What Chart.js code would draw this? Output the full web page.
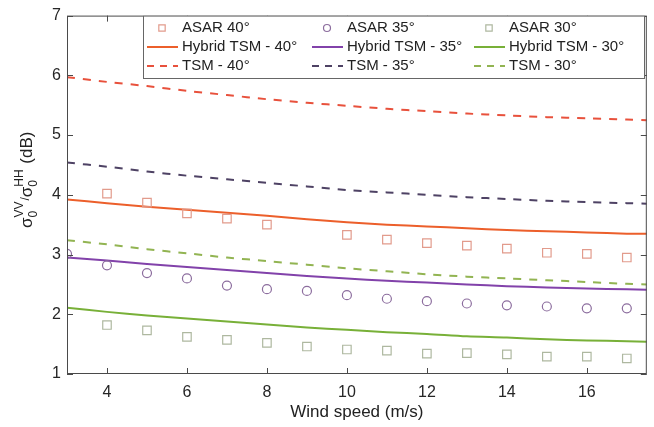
<!DOCTYPE html>
<html>
<head>
<meta charset="utf-8">
<script src="https://cdn.jsdelivr.net/npm/chart.js@4"></script>
<style>
  html, body { margin: 0; padding: 0; background: #fff; }
  canvas { display: block; }
</style>
</head>
<body>
<canvas id="windChart" width="654" height="427"></canvas>
<script>
// wind speed grid for the model curves
const windLine = [3, 4, 5, 6, 7, 8, 9, 10, 11, 12, 13, 14, 15, 16, 17, 17.5];

// model curves (dB)
const tsm40 = [5.97, 5.89, 5.82, 5.74, 5.67, 5.60, 5.54, 5.49, 5.44, 5.40, 5.36, 5.33, 5.30, 5.28, 5.26, 5.25];
const tsm35 = [4.54, 4.47, 4.39, 4.32, 4.26, 4.20, 4.14, 4.08, 4.04, 4.00, 3.96, 3.93, 3.90, 3.88, 3.86, 3.85];
const tsm30 = [3.24, 3.17, 3.09, 3.02, 2.95, 2.89, 2.83, 2.77, 2.72, 2.67, 2.63, 2.60, 2.57, 2.54, 2.51, 2.50];
const hybrid40 = [3.92, 3.86, 3.80, 3.75, 3.70, 3.65, 3.59, 3.54, 3.50, 3.47, 3.44, 3.41, 3.39, 3.37, 3.35, 3.35];
const hybrid35 = [2.95, 2.90, 2.84, 2.79, 2.74, 2.69, 2.64, 2.60, 2.56, 2.53, 2.50, 2.47, 2.45, 2.43, 2.42, 2.41];
const hybrid30 = [2.11, 2.04, 1.98, 1.93, 1.88, 1.83, 1.78, 1.74, 1.70, 1.67, 1.63, 1.61, 1.58, 1.56, 1.55, 1.54];

// ASAR measurements
const asar40X = [4, 5, 6, 7, 8, 10, 11, 12, 13, 14, 15, 16, 17];
const asar40 = [4.02, 3.87, 3.69, 3.60, 3.50, 3.33, 3.25, 3.19, 3.15, 3.10, 3.03, 3.01, 2.95];
const asar35X = [3, 4, 5, 6, 7, 8, 9, 10, 11, 12, 13, 14, 15, 16, 17];
const asar35 = [3.01, 2.82, 2.69, 2.60, 2.48, 2.42, 2.39, 2.32, 2.26, 2.22, 2.18, 2.15, 2.13, 2.10, 2.10];
const asar30X = [4, 5, 6, 7, 8, 9, 10, 11, 12, 13, 14, 15, 16, 17];
const asar30 = [1.82, 1.73, 1.62, 1.57, 1.52, 1.46, 1.41, 1.39, 1.34, 1.35, 1.33, 1.29, 1.29, 1.26];

// axis ticks
const xTicks = [4, 6, 8, 10, 12, 14, 16];
const yTicks = [1, 2, 3, 4, 5, 6, 7];

const FONT = "'Liberation Sans', Arial, sans-serif";
const pts = (xs, ys) => xs.map((x, i) => ({ x, y: ys[i] }));

function lineSet(label, ys, color, dashed) {
  return {
    type: "line", label, data: pts(windLine, ys),
    borderColor: color, backgroundColor: color,
    borderWidth: 2, borderDash: dashed ? [8, 8] : [],
    pointRadius: 0, tension: 0.3, fill: false
  };
}
function markerSet(label, xs, ys, color, style) {
  return {
    type: "scatter", label, data: pts(xs, ys),
    borderColor: color, backgroundColor: "rgba(0,0,0,0)",
    pointStyle: style, pointRadius: style === "rect" ? 6 : 4.5,
    borderWidth: 1.2, showLine: false
  };
}

const datasets = [
  markerSet("ASAR 40°", asar40X, asar40, "#e29b8c", "rect"),
  markerSet("ASAR 35°", asar35X, asar35, "#8c6d9e", "circle"),
  markerSet("ASAR 30°", asar30X, asar30, "#aeb8a0", "rect"),
  lineSet("Hybrid TSM - 40°", hybrid40, "#ec5f2b", false),
  lineSet("Hybrid TSM - 35°", hybrid35, "#8242aa", false),
  lineSet("Hybrid TSM - 30°", hybrid30, "#78b038", false),
  lineSet("TSM - 40°", tsm40, "#e8513c", true),
  lineSet("TSM - 35°", tsm35, "#4e4264", true),
  lineSet("TSM - 30°", tsm30, "#92b452", true)
];

// MATLAB-like box with inward ticks
const boxPlugin = {
  id: "box",
  afterDatasetsDraw(chart) {
    const { ctx, chartArea: a, scales: { x, y } } = chart;
    ctx.save();
    ctx.strokeStyle = "#4a4a4a";
    ctx.lineWidth = 1;
    ctx.strokeRect(a.left + 0.5, a.top + 0.5, a.right - a.left - 1, a.bottom - a.top - 1);
    ctx.beginPath();
    xTicks.forEach(v => {
      const p = Math.round(x.getPixelForValue(v)) + 0.5;
      ctx.moveTo(p, a.bottom); ctx.lineTo(p, a.bottom - 6);
      ctx.moveTo(p, a.top); ctx.lineTo(p, a.top + 6);
    });
    yTicks.forEach(v => {
      const p = Math.round(y.getPixelForValue(v)) + 0.5;
      ctx.moveTo(a.left, p); ctx.lineTo(a.left + 6, p);
      ctx.moveTo(a.right, p); ctx.lineTo(a.right - 6, p);
    });
    ctx.stroke();
    ctx.restore();
  }
};

// legend in 3 columns x 3 rows, boxed, inside the axes
const legendPlugin = {
  id: "boxLegend",
  afterDraw(chart) {
    const { ctx, chartArea: a } = chart;
    const left = 143, right = 645, top = a.top, bottom = 79;
    const colX = [147, 312, 474];
    const rowY = [28, 47, 66];
    ctx.save();
    ctx.fillStyle = "#fff";
    ctx.fillRect(left, top, right - left, bottom - top);
    ctx.strokeStyle = "#666";
    ctx.lineWidth = 1;
    ctx.strokeRect(left + 0.5, top + 0.5, right - left - 1, bottom - top - 1);
    ctx.font = "15px " + FONT;
    ctx.textBaseline = "middle";
    chart.data.datasets.forEach((ds, i) => {
      const row = Math.floor(i / 3), col = i % 3;
      const x0 = colX[col], yy = rowY[row];
      ctx.save();
      if (ds.type === "scatter") {
        ctx.strokeStyle = ds.borderColor;
        ctx.fillStyle = "rgba(0,0,0,0)";
        ctx.lineWidth = 1.2;
        const r = ds.pointStyle === "rect" ? 4.5 : 3.5;
        Chart.helpers.drawPoint(ctx, { pointStyle: ds.pointStyle, radius: r, borderWidth: 1.2 }, x0 + 15, yy);
      } else {
        ctx.strokeStyle = ds.borderColor;
        ctx.lineWidth = 2;
        ctx.setLineDash(ds.borderDash.length ? [7, 6] : []);
        ctx.beginPath();
        ctx.moveTo(x0, yy); ctx.lineTo(x0 + 31, yy);
        ctx.stroke();
      }
      ctx.restore();
      ctx.fillStyle = "#222";
      ctx.fillText(ds.label, x0 + 35, yy);
    });
    ctx.restore();
  }
};

// rotated y-axis title with sub/superscripts
const yTitlePlugin = {
  id: "yTitle",
  afterDraw(chart) {
    const { ctx, chartArea: a } = chart;
    const big = "17px " + FONT, small = "12px " + FONT;
    const parts = [
      { t: "σ", f: big, dy: 0 },
      { stack: [{ t: "0", dy: 5 }, { t: "VV", dy: -9 }] },
      { t: "/", f: small, dy: -3 },
      { t: "σ", f: big, dy: 0 },
      { stack: [{ t: "0", dy: 5 }, { t: "HH", dy: -9 }] },
      { t: " (dB)", f: big, dy: 0 }
    ];
    ctx.save();
    ctx.fillStyle = "#222";
    ctx.textBaseline = "alphabetic";
    let total = 0;
    parts.forEach(p => {
      if (p.stack) {
        ctx.font = small;
        p.w = Math.max(...p.stack.map(s => ctx.measureText(s.t).width)) + 1;
      } else {
        ctx.font = p.f;
        p.w = ctx.measureText(p.t).width;
      }
      total += p.w;
    });
    ctx.translate(32, (a.top + a.bottom) / 2 - 15);
    ctx.rotate(-Math.PI / 2);
    let cx = -total / 2;
    parts.forEach(p => {
      if (p.stack) {
        ctx.font = small;
        p.stack.forEach(s => ctx.fillText(s.t, cx, s.dy));
      } else {
        ctx.font = p.f;
        ctx.fillText(p.t, cx, p.dy);
      }
      cx += p.w;
    });
    ctx.restore();
  }
};

const ctx = document.getElementById("windChart").getContext("2d");
new Chart(ctx, {
  data: { datasets },
  plugins: [boxPlugin, legendPlugin, yTitlePlugin],
  options: {
    responsive: false,
    animation: false,
    devicePixelRatio: 1,
    layout: { padding: { top: 15, right: 6, left: 0, bottom: 0 } },
    plugins: { legend: { display: false }, tooltip: { enabled: false } },
    scales: {
      x: {
        type: "linear", min: 3, max: 17.5,
        afterBuildTicks: s => { s.ticks = xTicks.map(v => ({ value: v })); },
        afterFit: s => { s.height = 53; },
        grid: { display: false, drawTicks: false },
        border: { display: false },
        ticks: { color: "#262626", font: { family: FONT, size: 16 }, padding: 9, maxRotation: 0 },
        title: { display: true, text: "Wind speed (m/s)", color: "#222", font: { family: FONT, size: 17 }, padding: { top: 0, bottom: 4 } }
      },
      y: {
        type: "linear", min: 1, max: 7,
        afterBuildTicks: s => { s.ticks = yTicks.map(v => ({ value: v })); },
        afterFit: s => { s.width = 67; },
        grid: { display: false, drawTicks: false },
        border: { display: false },
        ticks: { color: "#262626", font: { family: FONT, size: 16 }, padding: 6 }
      }
    }
  }
});
</script>
</body>
</html>
